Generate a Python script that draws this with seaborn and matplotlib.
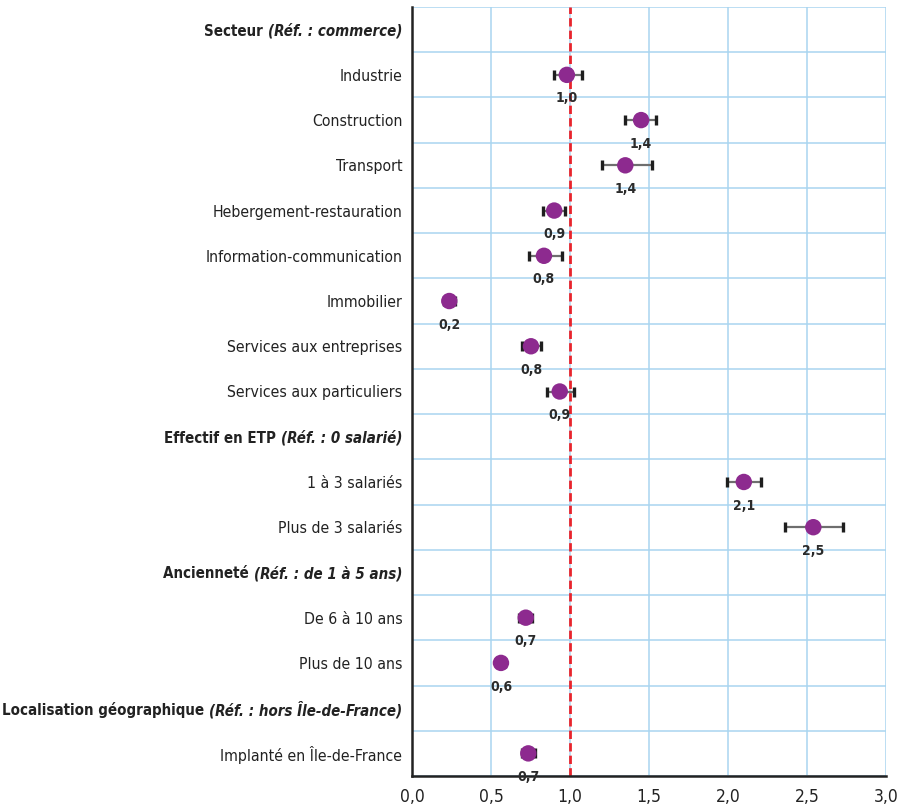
import numpy as np
import pandas as pd
import matplotlib
matplotlib.use("Agg")
import matplotlib.pyplot as plt
import seaborn as sns

# rows of the chart, top to bottom; header rows have no estimate
row_labels = ["Secteur", "Industrie", "Construction", "Transport",
              "Hebergement-restauration", "Information-communication",
              "Immobilier", "Services aux entreprises", "Services aux particuliers",
              "Effectif en ETP", "1 à 3 salariés", "Plus de 3 salariés",
              "Ancienneté", "De 6 à 10 ans", "Plus de 10 ans",
              "Localisation géographique", "Implanté en Île-de-France"]
header_ref = {"Secteur": "(Réf. : commerce)",
              "Effectif en ETP": "(Réf. : 0 salarié)",
              "Ancienneté": "(Réf. : de 1 à 5 ans)",
              "Localisation géographique": "(Réf. : hors Île-de-France)"}

est = [np.nan, 0.98, 1.45, 1.35, 0.90, 0.835, 0.236, 0.753, 0.935,
       np.nan, 2.10, 2.54, np.nan, 0.72, 0.563, np.nan, 0.736]
low = [np.nan, 0.897, 1.35, 1.20, 0.827, 0.738, 0.20, 0.694, 0.852,
       np.nan, 1.992, 2.36, np.nan, 0.68, 0.54, np.nan, 0.694]
high = [np.nan, 1.078, 1.544, 1.52, 0.97, 0.947, 0.274, 0.816, 1.025,
        np.nan, 2.21, 2.73, np.nan, 0.76, 0.59, np.nan, 0.78]

xticks = [0.0, 0.5, 1.0, 1.5, 2.0, 2.5, 3.0]
xtick_labels = ["0,0", "0,5", "1,0", "1,5", "2,0", "2,5", "3,0"]

sns.set_theme(style="white")
plt.rcParams['font.family'] = ['DejaVu Sans']
plt.rcParams['font.stretch'] = 'condensed'

df = pd.DataFrame({"label": row_labels, "est": est, "low": low, "high": high})
df["pos"] = np.arange(len(df))
pts = df.dropna()

fig = plt.figure(figsize=(8.99, 8.11), dpi=100)
ax = fig.add_axes([412 / 899, 35 / 811, 474 / 899, 769 / 811])

# grid
for xv in xticks:
    ax.axvline(xv, color="#a9d5f0", lw=1.1, zorder=0)
for k in range(len(df) + 1):
    ax.axhline(k - 0.5, color="#a9d5f0", lw=1.1, zorder=0)

ax.axvline(1.0, color="#e8242c", lw=2, ls=(0, (3, 1.5)), zorder=1)

ax.hlines(pts["pos"], pts["low"], pts["high"], color="#6e6e6e", lw=1.6, zorder=2)
caps = pd.concat([pts[["pos"]].assign(x=pts["low"]), pts[["pos"]].assign(x=pts["high"])])
sns.scatterplot(data=caps, x="x", y="pos", marker="|", s=55, linewidth=2.4,
                color="#1e1e1e", ax=ax, zorder=3, legend=False)
sns.scatterplot(data=pts, x="est", y="pos", s=140, color="#8d2a8f",
                edgecolor="none", ax=ax, zorder=4, legend=False)

for _, r in pts.iterrows():
    ax.annotate(f"{r['est']:.1f}".replace(".", ","), (r["est"], r["pos"]),
                xytext=(0, -17), textcoords="offset points", ha="center", va="center",
                fontsize=10, fontweight="bold", color="#2b2b2b", zorder=5)

ax.set_xlim(0, 3.0)
ax.set_ylim(len(df) - 0.5, -0.5)
ax.set_xticks(xticks)
ax.set_xticklabels(xtick_labels, fontsize=12.5, color="#222222")
ax.set_yticks(df["pos"])
ax.set_yticklabels([("" if l in header_ref else l) for l in row_labels],
                   fontsize=11.3, color="#222222")
ax.tick_params(axis="both", length=0)
ax.tick_params(axis="y", pad=7)
ax.tick_params(axis="x", pad=9)
ax.set_xlabel("")
ax.set_ylabel("")

for side in ["top", "right"]:
    ax.spines[side].set_visible(False)
for side in ["left", "bottom"]:
    ax.spines[side].set_color("#222222")
    ax.spines[side].set_linewidth(1.8)

# header rows: bold name then bold italic reference
fig.canvas.draw()
renderer = fig.canvas.get_renderer()
ytrans = ax.get_yaxis_transform()
for name, ref in header_ref.items():
    p = row_labels.index(name)
    t_ref = ax.annotate(ref, (0, p), xycoords=ytrans, xytext=(-7, 0),
                        textcoords="offset points", ha="right", va="center_baseline",
                        fontsize=10.8, fontweight="bold", style="italic",
                        color="#222222", annotation_clip=False)
    w = t_ref.get_window_extent(renderer).width * 72 / fig.dpi
    ax.annotate(name + " ", (0, p), xycoords=ytrans, xytext=(-7 - w, 0),
                textcoords="offset points", ha="right", va="center_baseline",
                fontsize=10.8, fontweight="bold", color="#222222",
                annotation_clip=False)

fig.savefig("out.png", dpi=100)
